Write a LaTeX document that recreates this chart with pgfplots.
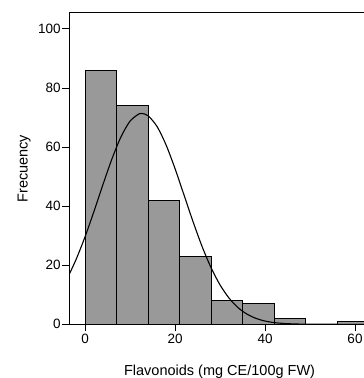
\documentclass[border=0pt]{standalone}
\usepackage{fontspec}
\setmainfont{Liberation Sans}
\usepackage{pgfplots}
\pgfplotsset{compat=1.18}
\begin{document}
\begin{tikzpicture}
\begin{axis}[
  scale only axis,
  width=294.7bp, height=311.3bp,
  xmin=-3.5, xmax=62, ymin=0, ymax=105.4,
  axis x line*=box, axis y line*=left,
  axis line style={line width=1bp, black},
  xtick={0,20,40,60}, ytick={0,20,40,60,80,100},
  xtick pos=bottom, ytick pos=left,
  tick align=outside, major tick length=7bp,
  every tick/.style={black, line width=1bp},
  /pgf/number format/assume math mode=true,
  tick label style={font=\fontsize{13.5bp}{16bp}\selectfont},
  yticklabel style={inner xsep=1.5bp},
  xticklabel style={inner ysep=3bp},
  xlabel={Flavonoids (mg CE/100g FW)},
  ylabel={Frecuency},
  label style={font=\fontsize{14.5bp}{17bp}\selectfont},
  xlabel style={at={(axis description cs:0.510,-0.163)}, anchor=base},
  ylabel style={at={(axis description cs:-0.141,0.5)}, anchor=base},
]
\addplot[ybar interval, fill={rgb,255:red,153;green,153;blue,153}, draw=black, line width=1bp]
  coordinates {(0,86) (7,74) (14,42) (21,23) (28,8) (35,7) (42,2) (49,0) (56,1) (63,1)};
\addplot[smooth, black, line width=1.1bp] coordinates {
(-3.5,16.99) (-2,21.92) (0,29.63) (2,38.31) (4,47.40) (6,56.09) (8,63.50) (10,68.77)
(12,71.26) (12.6,71.4) (14,70.63) (16,66.97) (18,60.75) (20,52.71) (22,43.76)
(24,34.76) (26,26.40) (28,19.19) (30,13.34) (32,8.88) (34,5.65) (36,3.44)
(38,2.00) (40,1.11) (42,0.59) (44,0.30) (46,0.15) (48,0.07) (52,0.01) (56,0) (62,0)};
\end{axis}
\pgfresetboundingbox
\useasboundingbox (-69.3bp,-53.7bp) rectangle (294.7bp,324.3bp);
\end{tikzpicture}
\end{document}
